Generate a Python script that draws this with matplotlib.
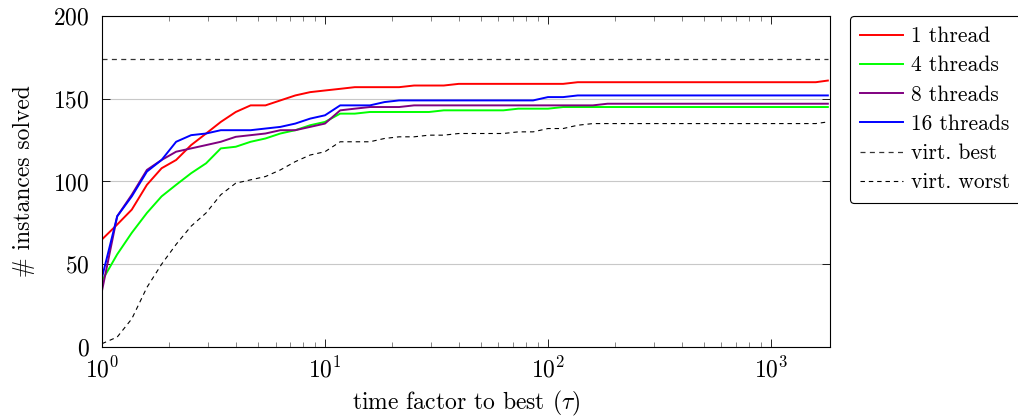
import matplotlib
matplotlib.use("Agg")
import matplotlib.pyplot as plt
from matplotlib.ticker import LogLocator, NullFormatter

plt.rcParams['font.family'] = ['cmr10', 'DejaVu Serif']
plt.rcParams['mathtext.fontset'] = 'cm'
plt.rcParams['axes.formatter.use_mathtext'] = True

tau = [1, 1.17, 1.36, 1.59, 1.85, 2.15, 2.51, 2.93, 3.41, 3.98,
       4.64, 5.41, 6.31, 7.36, 8.58, 10, 11.7, 13.6, 15.9, 18.5,
       21.5, 25.1, 29.3, 34.1, 39.8, 46.4, 54.1, 63.1, 73.6, 85.8,
       100, 117, 136, 159, 185, 215, 251, 293, 341, 398,
       464, 541, 631, 736, 858, 1000, 1170, 1360, 1590, 1800]

t1 = [65, 74, 83, 98, 108, 113, 122, 129, 136, 142,
      146, 146, 149, 152, 154, 155, 156, 157, 157, 157,
      157, 158, 158, 158, 159, 159, 159, 159, 159, 159,
      159, 159, 160, 160, 160, 160, 160, 160, 160, 160,
      160, 160, 160, 160, 160, 160, 160, 160, 160, 161]
t4 = [40, 56, 69, 81, 91, 98, 105, 111, 120, 121,
      124, 126, 129, 131, 134, 136, 141, 141, 142, 142,
      142, 142, 142, 143, 143, 143, 143, 143, 144, 144,
      144, 145, 145, 145, 145, 145, 145, 145, 145, 145,
      145, 145, 145, 145, 145, 145, 145, 145, 145, 145]
t8 = [34, 79, 92, 107, 113, 118, 120, 122, 124, 127,
      128, 129, 131, 131, 133, 135, 143, 144, 145, 145,
      145, 146, 146, 146, 146, 146, 146, 146, 146, 146,
      146, 146, 146, 146, 147, 147, 147, 147, 147, 147,
      147, 147, 147, 147, 147, 147, 147, 147, 147, 147]
t16 = [42, 79, 91, 106, 113, 124, 128, 129, 131, 131,
       131, 132, 133, 135, 138, 140, 146, 146, 146, 148,
       149, 149, 149, 149, 149, 149, 149, 149, 149, 149,
       151, 151, 152, 152, 152, 152, 152, 152, 152, 152,
       152, 152, 152, 152, 152, 152, 152, 152, 152, 152]
vbest = [174] * len(tau)
vworst = [2, 6, 17, 36, 50, 62, 73, 81, 92, 99,
          101, 103, 107, 112, 116, 118, 124, 124, 124, 126,
          127, 127, 128, 128, 129, 129, 129, 129, 130, 130,
          132, 132, 134, 135, 135, 135, 135, 135, 135, 135,
          135, 135, 135, 135, 135, 135, 135, 135, 135, 136]

labels = ['1 thread', '4 threads', '8 threads', '16 threads', 'virt. best', 'virt. worst']

fig = plt.figure(figsize=(10.18, 4.18), dpi=100)
ax = fig.add_axes([0.1002, 0.1699, 0.7151, 0.7918])

ax.plot(tau, t1, color=(1, 0, 0), lw=1.4, label=labels[0])
ax.plot(tau, t4, color=(0, 1, 0), lw=1.4, label=labels[1])
ax.plot(tau, t8, color=(0.5, 0, 0.5), lw=1.4, label=labels[2])
ax.plot(tau, t16, color=(0, 0, 1), lw=1.4, label=labels[3])
ax.plot(tau, vbest, color='#333333', lw=0.9, dashes=(4, 3.5), label=labels[4])
ax.plot(tau, vworst, color='black', lw=0.8, dashes=(4, 3.5), label=labels[5])

ax.set_xscale('log')
ax.set_xlim(1, 1840)
ax.set_ylim(0, 200)
ax.set_yticks([0, 50, 100, 150, 200])
ax.xaxis.set_major_locator(LogLocator(base=10, numticks=10))
ax.xaxis.set_minor_locator(LogLocator(base=10, subs=range(2, 10), numticks=20))
ax.xaxis.set_minor_formatter(NullFormatter())
ax.yaxis.grid(True, color='#c8c8c8', lw=0.8)
ax.set_axisbelow(True)
ax.tick_params(which='both', direction='in', top=True, right=True, labelsize=17)
ax.tick_params(axis='y', pad=9)
ax.tick_params(axis='x', pad=7)
ax.tick_params(which='major', length=6, width=0.6)
ax.tick_params(which='minor', length=3.5, width=0.5, color='#555555')
for s in ax.spines.values():
    s.set_linewidth(0.8)

ax.set_xlabel(r'time factor to best ($\tau$)', fontsize=17, labelpad=5)
ax.set_ylabel('# instances solved', fontsize=17, labelpad=13)

leg = ax.legend(loc='upper left', bbox_to_anchor=(1.027, 1.0), fontsize=15.5,
                frameon=True, fancybox=True, edgecolor='black', framealpha=1,
                handlelength=2.0, labelspacing=0.45, borderpad=0.5, handletextpad=0.35,
                borderaxespad=0)
leg.get_frame().set_linewidth(0.8)

fig.savefig('out.png', dpi=100)
